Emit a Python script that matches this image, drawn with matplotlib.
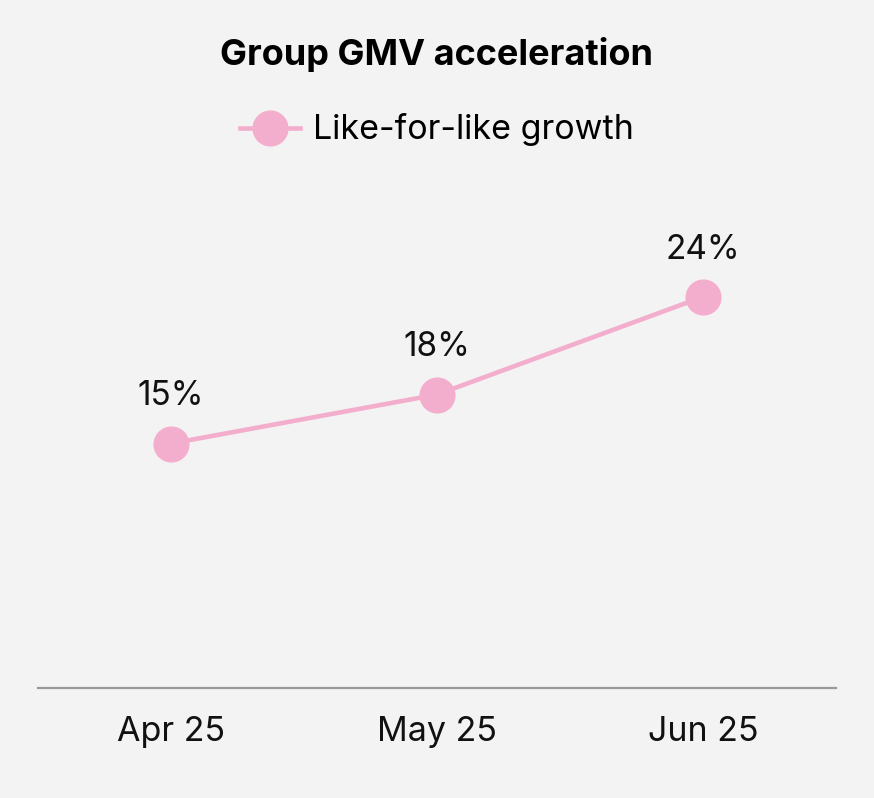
import matplotlib
matplotlib.use('Agg')
import matplotlib.pyplot as plt

months = ['Apr 25', 'May 25', 'Jun 25']
growth = [15, 18, 24]
labels = ['15%', '18%', '24%']

BG = '#f3f3f3'
PINK = '#f4aecd'

plt.rcParams['font.family'] = ['Inter', 'DejaVu Sans']

fig = plt.figure(figsize=(8.74, 7.98), dpi=100, facecolor=BG)
ax = fig.add_axes([38 / 874, 110 / 798, 798 / 874, 489 / 798])
ax.set_facecolor(BG)

x = list(range(len(months)))
line, = ax.plot(x, growth, color=PINK, linewidth=3.3, marker='o',
                markersize=25, markerfacecolor=PINK, markeredgecolor=PINK,
                label='Like-for-like growth')

for xi, v, lab in zip(x, growth, labels):
    ax.annotate(lab, (xi, v), xytext=(0, 27.5), textcoords='offset points',
                ha='center', va='baseline', fontsize=24, color='#111111')

ax.set_xlim(-0.5, 2.5)
ax.set_ylim(0, 30)
ax.set_xticks(x)
ax.set_xticklabels(months, fontsize=24.5, color='#111111')
ax.set_yticks([])
ax.tick_params(axis='x', length=0, pad=20)
for side in ['top', 'left', 'right']:
    ax.spines[side].set_visible(False)
ax.spines['bottom'].set_color('#999999')
ax.spines['bottom'].set_linewidth(1.6)

fig.text(0.5, 1 - 55 / 798, 'Group GMV acceleration', ha='center', va='center',
         fontsize=26, fontweight='bold', color='#000000')

fig.legend(handles=[line], loc='center', bbox_to_anchor=(0.5, 1 - 130 / 798),
           frameon=False, fontsize=24.5, handlelength=1.75, markerscale=1.0,
           handletextpad=0.4)

fig.savefig('out.png', dpi=100, facecolor=BG)
